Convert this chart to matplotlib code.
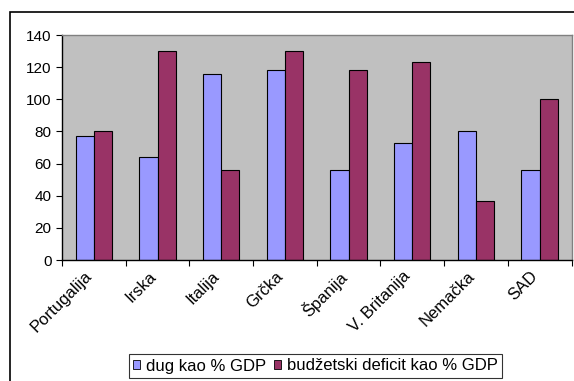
import numpy as np
import matplotlib
matplotlib.use("Agg")
import matplotlib.pyplot as plt
import matplotlib.transforms as mtransforms
from matplotlib.patches import Rectangle

plt.rcParams['font.family'] = ['Liberation Sans', 'DejaVu Sans']

countries = ['Portugalija', 'Irska', 'Italija', 'Grčka', 'Španija',
             'V. Britanija', 'Nemačka', 'SAD']
dug = [77, 64, 116, 118, 56, 73, 80, 56]
deficit = [80, 130, 56, 130, 118, 123, 37, 100]
yticks = [0, 20, 40, 60, 80, 100, 120, 140]

W, H = 574, 381
fig = plt.figure(figsize=(W / 100, H / 100), dpi=100)
fig.patch.set_facecolor('white')

# okvir oko cijelog grafikona (desno i dolje izlazi van slike)
fig.patches.append(Rectangle((10 / W, -0.1), 1.2, (H - 11.7) / H + 0.1,
                             transform=fig.transFigure, fill=False,
                             edgecolor='black', linewidth=1.2))

ax = fig.add_axes([62 / W, 1 - 260 / H, (571.5 - 62) / W, (260 - 35) / H])
ax.set_facecolor('#C0C0C0')

x = np.arange(len(countries))
bw = 1 / 3.5
ax.bar(x - bw / 2, dug, bw, color='#9999FF', edgecolor='black',
       linewidth=0.8, label='dug kao % GDP')
ax.bar(x + bw / 2, deficit, bw, color='#993366', edgecolor='black',
       linewidth=0.8, label='budžetski deficit kao % GDP')

ax.set_xlim(-0.5, len(countries) - 0.5)
ax.set_ylim(0, 140)
ax.set_yticks(yticks)
ax.tick_params(axis='y', length=4, width=0.8, labelsize=11, pad=3.5)

# x tickovi na granicama kategorija, labele u sredini
ax.set_xticks(np.arange(len(countries) + 1) - 0.5)
ax.set_xticklabels([])
ax.tick_params(axis='x', length=4, width=0.8)
ax.set_xticks(x, minor=True)
ax.set_xticklabels(countries, minor=True, rotation=45, ha='right',
                   va='center', rotation_mode='anchor', fontsize=12)
ax.tick_params(axis='x', which='minor', length=0, pad=10)
shift = mtransforms.ScaledTranslation(-4 / 100, 0, fig.dpi_scale_trans)
for lbl in ax.get_xticklabels(minor=True):
    lbl.set_transform(lbl.get_transform() + shift)

for s in ['top', 'right']:
    ax.spines[s].set_color('#808080')
    ax.spines[s].set_linewidth(1.0)
for s in ['left', 'bottom']:
    ax.spines[s].set_color('black')
    ax.spines[s].set_linewidth(1.0)

leg = fig.legend(loc='center', bbox_to_anchor=(315.5 / W, 1 - 366 / H),
                 ncol=2, fontsize=12, frameon=True, fancybox=False,
                 handlelength=0.42, handleheight=0.42, handletextpad=0.35,
                 columnspacing=0.45, borderpad=0.25, borderaxespad=0)
leg.get_frame().set_edgecolor('black')
leg.get_frame().set_linewidth(0.8)
for p in leg.get_patches():
    p.set_edgecolor('black')
    p.set_linewidth(0.6)

fig.savefig('out.png', dpi=100)
